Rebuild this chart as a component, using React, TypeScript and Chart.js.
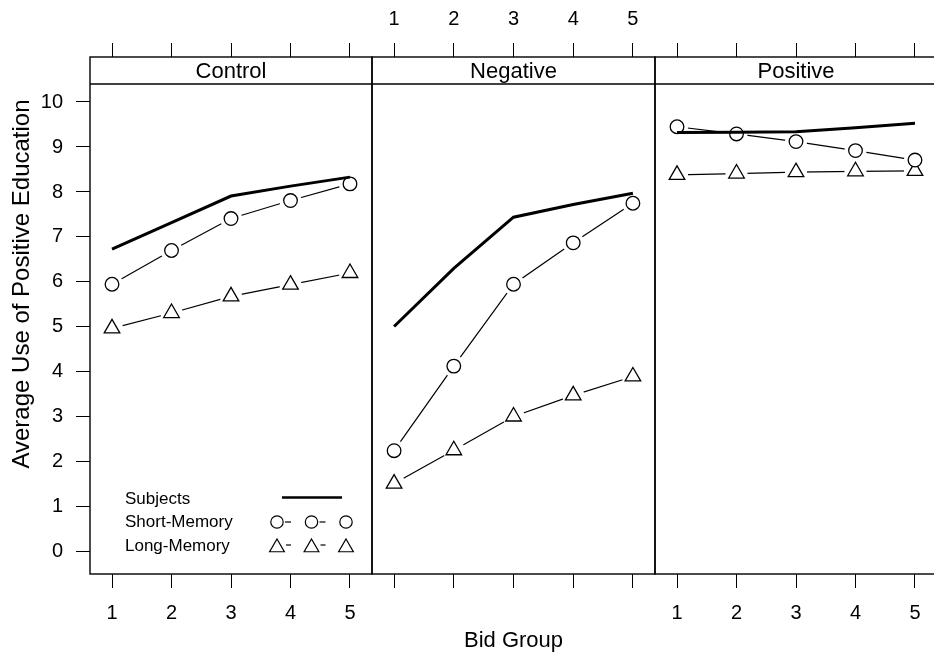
import React, { useEffect, useRef } from "react";
import { Chart, registerables } from "chart.js";

Chart.register(...registerables);

// ---------------- data ----------------
const bidGroups = [1, 2, 3, 4, 5];
const panelNames = ["Control", "Negative", "Positive"];
const yTickValues = [0, 1, 2, 3, 4, 5, 6, 7, 8, 9, 10];

const controlSubjects = [6.73, 7.32, 7.91, 8.13, 8.33];
const controlShort = [5.95, 6.7, 7.41, 7.81, 8.18];
const controlLong = [4.97, 5.31, 5.68, 5.94, 6.2];

const negativeSubjects = [5.01, 6.3, 7.44, 7.72, 7.97];
const negativeShort = [2.25, 4.13, 5.95, 6.87, 7.75];
const negativeLong = [1.52, 2.26, 3.01, 3.48, 3.9];

const positiveSubjects = [9.32, 9.33, 9.34, 9.43, 9.53];
const positiveShort = [9.45, 9.29, 9.12, 8.92, 8.71];
const positiveLong = [8.38, 8.41, 8.44, 8.46, 8.47];

const legendLabels = ["Subjects", "Short-Memory", "Long-Memory"];
const xTitle = "Bid Group";
const yTitle = "Average Use of Positive Education";

const subjectsSeries = [controlSubjects, negativeSubjects, positiveSubjects];
const shortSeries = [controlShort, negativeShort, positiveShort];
const longSeries = [controlLong, negativeLong, positiveLong];

// ---------------- layout / style ----------------
const FONT = "'Liberation Sans', Arial, Helvetica, sans-serif";
const CW = 940;
const CH = 654;
const TOP = 57;
const STRIP_BOTTOM = 84;
const BOTTOM = 574;
const PANELS = [
  { L: 90, R: 372 },
  { L: 372, R: 655 },
  { L: 655, R: 937 },
];
const X_MIN = 0.63;
const X_MAX = 5.37;
const Y_MIN = -0.49;
const Y_MAX = 11.0;

const pts = (vals: number[]) => vals.map((v, k) => ({ x: bidGroups[k], y: v }));

function zeroPad(s: any) {
  s.paddingLeft = 0;
  s.paddingRight = 0;
  s.paddingTop = 0;
  s.paddingBottom = 0;
}

function makeConfig(i: number): any {
  const p = PANELS[i];
  const tickGrid = {
    drawOnChartArea: false,
    drawTicks: true,
    tickLength: 14,
    color: "#000",
    lineWidth: 1,
  };
  const setXTicks = (s: any) => {
    s.ticks = bidGroups.map((v) => ({ value: v }));
  };

  const framePlugin = {
    id: "frame" + i,
    afterDraw(chart: any) {
      const ctx = chart.ctx;
      const a = chart.chartArea;
      ctx.save();
      ctx.strokeStyle = "#000";
      ctx.lineWidth = 1.4;
      ctx.strokeRect(a.left, TOP, a.right - a.left, BOTTOM - TOP);
      ctx.beginPath();
      ctx.moveTo(a.left, STRIP_BOTTOM);
      ctx.lineTo(a.right, STRIP_BOTTOM);
      ctx.stroke();
      ctx.fillStyle = "#000";
      ctx.font = `22px ${FONT}`;
      ctx.textAlign = "center";
      ctx.textBaseline = "middle";
      ctx.fillText(panelNames[i], (a.left + a.right) / 2, (TOP + STRIP_BOTTOM) / 2 + 1);

      if (i === 0) {
        // y title
        ctx.save();
        ctx.translate(22, 284);
        ctx.rotate(-Math.PI / 2);
        ctx.font = `24px ${FONT}`;
        ctx.textAlign = "center";
        ctx.textBaseline = "middle";
        ctx.fillText(yTitle, 0, 0);
        ctx.restore();

        // legend
        ctx.font = `17px ${FONT}`;
        ctx.textAlign = "left";
        ctx.textBaseline = "middle";
        const rows = [499, 522, 546];
        legendLabels.forEach((t, k) => ctx.fillText(t, 125, rows[k]));
        ctx.lineWidth = 2.7;
        ctx.beginPath();
        ctx.moveTo(282, 497.5);
        ctx.lineTo(342, 497.5);
        ctx.stroke();
        const xs = [277, 311.5, 346];
        ctx.lineWidth = 1.2;
        xs.forEach((x, k) => {
          ctx.beginPath();
          ctx.arc(x, 522, 6.2, 0, Math.PI * 2);
          ctx.stroke();
          if (k < 2) {
            ctx.beginPath();
            ctx.moveTo(x + 8, 522);
            ctx.lineTo(x + 14, 522);
            ctx.stroke();
          }
          const cy = 547.5;
          const r = 8.5;
          ctx.beginPath();
          ctx.moveTo(x, cy - r);
          ctx.lineTo(x + r * Math.sin((2 * Math.PI) / 3), cy + r / 2);
          ctx.lineTo(x - r * Math.sin((2 * Math.PI) / 3), cy + r / 2);
          ctx.closePath();
          ctx.stroke();
          if (k < 2) {
            ctx.beginPath();
            ctx.moveTo(x + 9, 545);
            ctx.lineTo(x + 14, 545);
            ctx.stroke();
          }
        });
      }
      ctx.restore();
    },
  };

  return {
    type: "line",
    data: {
      datasets: [
        {
          label: "Subjects",
          data: pts(subjectsSeries[i]),
          borderColor: "#000",
          borderWidth: 3,
          pointRadius: 0,
          order: 0,
        },
        {
          label: "Short-Memory line",
          data: pts(shortSeries[i]),
          borderColor: "#000",
          borderWidth: 1.2,
          pointRadius: 0,
          order: 3,
        },
        {
          label: "Long-Memory line",
          data: pts(longSeries[i]),
          borderColor: "#000",
          borderWidth: 1.2,
          pointRadius: 0,
          order: 3,
        },
        {
          label: "Short-Memory gap",
          data: pts(shortSeries[i]),
          showLine: false,
          pointRadius: 11,
          pointBorderWidth: 0,
          pointBackgroundColor: "#fff",
          pointBorderColor: "#fff",
          order: 2,
        },
        {
          label: "Long-Memory gap",
          data: pts(longSeries[i]),
          showLine: false,
          pointRadius: 11,
          pointBorderWidth: 0,
          pointBackgroundColor: "#fff",
          pointBorderColor: "#fff",
          order: 2,
        },
        {
          label: "Short-Memory",
          data: pts(shortSeries[i]),
          showLine: false,
          pointStyle: "circle",
          pointRadius: 6.8,
          pointBorderWidth: 1.3,
          pointBorderColor: "#000",
          pointBackgroundColor: "#fff",
          order: 1,
        },
        {
          label: "Long-Memory",
          data: pts(longSeries[i]),
          showLine: false,
          pointStyle: "triangle",
          pointRadius: 9,
          pointBorderWidth: 1.3,
          pointBorderColor: "#000",
          pointBackgroundColor: "#fff",
          order: 1,
        },
      ],
    },
    options: {
      animation: false,
      responsive: false,
      devicePixelRatio: 1,
      events: [],
      layout: {
        autoPadding: false,
        padding: { left: i === 0 ? 0 : p.L, right: CW - p.R, top: 0, bottom: 0 },
      },
      plugins: { legend: { display: false }, tooltip: { enabled: false } },
      scales: {
        x: {
          type: "linear",
          position: "bottom",
          min: X_MIN,
          max: X_MAX,
          afterBuildTicks: setXTicks,
          afterFit: (s: any) => {
            s.height = CH - BOTTOM;
            zeroPad(s);
          },
          grid: tickGrid,
          border: { display: false },
          ticks: {
            color: i === 1 ? "transparent" : "#000",
            font: { family: FONT, size: 20 },
            padding: 13,
            maxRotation: 0,
            autoSkip: false,
          },
          title: {
            display: i === 1,
            text: xTitle,
            color: "#000",
            font: { family: FONT, size: 22 },
            padding: { top: 0, bottom: 0 },
          },
        },
        xTop: {
          type: "linear",
          position: "top",
          min: X_MIN,
          max: X_MAX,
          afterBuildTicks: setXTicks,
          afterFit: (s: any) => {
            s.height = TOP;
            zeroPad(s);
          },
          grid: tickGrid,
          border: { display: false },
          ticks: {
            color: i === 1 ? "#000" : "transparent",
            font: { family: FONT, size: 20 },
            padding: 12,
            maxRotation: 0,
            autoSkip: false,
          },
        },
        y: {
          type: "linear",
          position: "left",
          display: i === 0,
          min: Y_MIN,
          max: Y_MAX,
          afterBuildTicks: (s: any) => {
            s.ticks = yTickValues.map((v) => ({ value: v }));
          },
          afterFit: (s: any) => {
            s.width = i === 0 ? PANELS[0].L : 0;
            zeroPad(s);
          },
          grid: tickGrid,
          border: { display: false },
          ticks: {
            color: "#000",
            font: { family: FONT, size: 20 },
            padding: 13,
            autoSkip: false,
          },
        },
      },
    },
    plugins: [framePlugin],
  };
}

export default function App() {
  const r0 = useRef<HTMLCanvasElement>(null);
  const r1 = useRef<HTMLCanvasElement>(null);
  const r2 = useRef<HTMLCanvasElement>(null);
  const refs = [r0, r1, r2];

  useEffect(() => {
    document.body.style.margin = "0";
    const charts = refs.map((r, i) => new Chart(r.current as HTMLCanvasElement, makeConfig(i)));
    return () => charts.forEach((c) => c.destroy());
  }, []);

  return (
    <div
      style={{
        position: "relative",
        width: 934,
        height: 654,
        overflow: "hidden",
        background: "#fff",
      }}
    >
      {refs.map((r, i) => (
        <canvas
          key={i}
          ref={r}
          width={CW}
          height={CH}
          style={{ position: "absolute", left: 0, top: 0, width: CW, height: CH }}
        />
      ))}
    </div>
  );
}
